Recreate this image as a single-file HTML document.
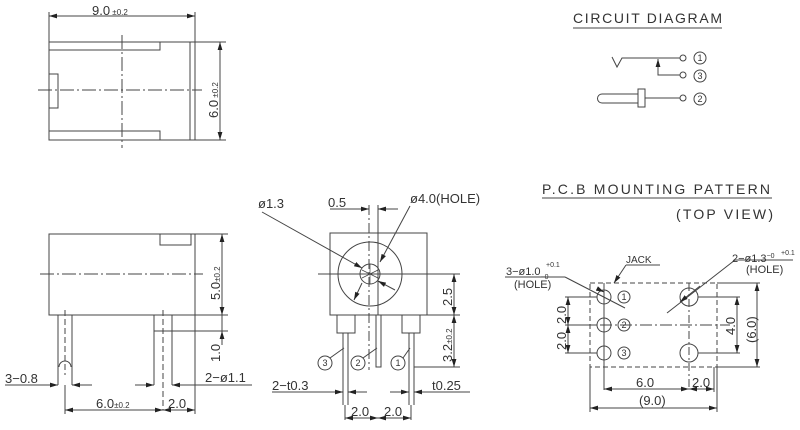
<!DOCTYPE html>
<html><head><meta charset="utf-8"><style>
html,body{margin:0;padding:0;background:#fff;}
svg{display:block;}
text{font-family:"Liberation Sans",sans-serif;fill:#333;}
</style></head><body>
<svg width="800" height="430" viewBox="0 0 800 430" xmlns="http://www.w3.org/2000/svg">
<defs>
<marker id="a" viewBox="0 0 10 6" refX="10" refY="3" markerWidth="8" markerHeight="5" orient="auto-start-reverse"><path d="M0,0L10,3L0,6z" fill="#222"/></marker>
</defs>
<g stroke="#444" stroke-width="1" fill="none">
<!-- TOP VIEW -->
<rect x="49" y="42" width="146" height="98"/>
<line x1="190" y1="42" x2="190" y2="140"/>
<polyline points="49,50 160,50 160,42"/>
<polyline points="49,131 160,131 160,140"/>
<rect x="49" y="74" width="9" height="34"/>
<line x1="122" y1="35" x2="122" y2="148" stroke-dasharray="14,3,2,3"/>
<line x1="38" y1="90" x2="202" y2="90" stroke-dasharray="14,3,2,3"/>
<line x1="49" y1="12" x2="49" y2="42"/><line x1="195" y1="12" x2="195" y2="42"/>
<line x1="49" y1="16" x2="195" y2="16" marker-start="url(#a)" marker-end="url(#a)"/>
<line x1="195" y1="42" x2="226" y2="42"/><line x1="195" y1="140" x2="226" y2="140"/>
<line x1="220" y1="42" x2="220" y2="140" marker-start="url(#a)" marker-end="url(#a)"/>

<!-- FRONT VIEW -->
<rect x="49" y="234" width="146" height="81"/>
<rect x="160" y="234" width="31" height="11"/>
<line x1="40" y1="274" x2="203" y2="274" stroke-dasharray="14,3,2,3"/>
<path d="M58,315V385M72,315V385"/>
<path d="M59,367A6,6 0 0 1 71,367" />
<line x1="65" y1="310" x2="65" y2="375" stroke-dasharray="6,3"/>
<path d="M154,315V385M172,315V385"/>
<line x1="163" y1="310" x2="163" y2="410" stroke-dasharray="6,3"/>
<line x1="154" y1="331" x2="228" y2="331"/>
<line x1="195" y1="234" x2="228" y2="234"/><line x1="195" y1="315" x2="228" y2="315"/>
<line x1="222" y1="234" x2="222" y2="315" marker-start="url(#a)" marker-end="url(#a)"/>
<line x1="222" y1="315" x2="222" y2="331"/>
<line x1="222" y1="345" x2="222" y2="331" marker-end="url(#a)"/>
<line x1="5" y1="385" x2="58" y2="385" marker-end="url(#a)"/>
<line x1="92" y1="385" x2="72" y2="385" marker-end="url(#a)"/>
<line x1="135" y1="385" x2="154" y2="385" marker-end="url(#a)"/>
<line x1="252" y1="385" x2="172" y2="385" marker-end="url(#a)"/>
<line x1="65" y1="385" x2="65" y2="414"/><line x1="195" y1="315" x2="195" y2="414"/>
<line x1="65" y1="410" x2="163" y2="410" marker-start="url(#a)" marker-end="url(#a)"/>
<line x1="163" y1="410" x2="195" y2="410" marker-start="url(#a)" marker-end="url(#a)"/>

<!-- SIDE VIEW -->
<rect x="330" y="233" width="97" height="82"/>
<circle cx="370" cy="274" r="32"/>
<circle cx="370" cy="274" r="10"/>
<line x1="318" y1="274" x2="460" y2="274"/>
<line x1="369" y1="205" x2="369" y2="370" stroke-dasharray="10,3,2,3"/>
<line x1="378" y1="205" x2="378" y2="315"/>
<line x1="330" y1="209" x2="369" y2="209" marker-end="url(#a)"/>
<line x1="398" y1="209" x2="378" y2="209" marker-end="url(#a)"/>
<line x1="262" y1="212" x2="362" y2="268" marker-end="url(#a)"/>
<line x1="410" y1="206" x2="380" y2="262" marker-end="url(#a)"/>
<line x1="395" y1="290" x2="378" y2="281" marker-end="url(#a)"/>
<line x1="362" y1="283" x2="354" y2="300" marker-end="url(#a)"/>
<path d="M362,270L378,278M362,278L378,270M370,264V284" stroke-width="0.7"/>
<rect x="337" y="315" width="18" height="18"/>
<rect x="402" y="315" width="18" height="18"/>
<path d="M343,333V405M348,333V405"/>
<path d="M409,333V405M414,333V405"/>
<rect x="376" y="315" width="5" height="52"/>
<line x1="427" y1="274" x2="460" y2="274"/><line x1="427" y1="315" x2="460" y2="315"/>
<line x1="414" y1="367" x2="460" y2="367"/>
<line x1="454" y1="274" x2="454" y2="315" marker-start="url(#a)" marker-end="url(#a)"/>
<line x1="454" y1="315" x2="454" y2="367" marker-start="url(#a)" marker-end="url(#a)"/>
<circle cx="325" cy="363" r="7"/><circle cx="358" cy="363" r="7"/><circle cx="398" cy="363" r="7"/>
<line x1="330" y1="358" x2="344" y2="348"/><line x1="363" y1="358" x2="377" y2="348"/><line x1="403" y1="358" x2="410" y2="348"/>
<line x1="272" y1="392" x2="343" y2="392" marker-end="url(#a)"/>
<line x1="367" y1="392" x2="348" y2="392" marker-end="url(#a)"/>
<line x1="390" y1="392" x2="409" y2="392" marker-end="url(#a)"/>
<line x1="470" y1="392" x2="414" y2="392" marker-end="url(#a)"/>
<line x1="345" y1="405" x2="345" y2="420"/><line x1="411" y1="405" x2="411" y2="420"/>
<line x1="345" y1="418" x2="378" y2="418" marker-start="url(#a)" marker-end="url(#a)"/>
<line x1="378" y1="418" x2="411" y2="418" marker-start="url(#a)" marker-end="url(#a)"/>

<!-- CIRCUIT -->
<line x1="573" y1="28" x2="722" y2="28"/>
<polyline points="612,57 617,67 622,58 680,58"/>
<circle cx="683" cy="58" r="3"/>
<polyline points="658,60 658,75 680,75" />
<line x1="658" y1="66" x2="658" y2="59" marker-end="url(#a)"/>
<circle cx="683" cy="75" r="3"/>
<path d="M638,94H602A4.5,4.5 0 0 0 602,103H638"/>
<rect x="638" y="89" width="7" height="18"/>
<line x1="645" y1="98" x2="680" y2="98"/>
<circle cx="683" cy="98" r="3"/>
<circle cx="700" cy="58" r="6"/><circle cx="700" cy="76" r="6"/><circle cx="700" cy="99" r="6"/>

<!-- PCB -->
<line x1="542" y1="198" x2="772" y2="198"/>
<rect x="590" y="283" width="127" height="84" stroke-dasharray="5,3"/>
<line x1="580" y1="325" x2="730" y2="325" stroke-dasharray="12,3,2,3"/>
<line x1="604" y1="283" x2="604" y2="390"/>
<line x1="689" y1="283" x2="689" y2="390" stroke-dasharray="8,3,2,3"/>
<circle cx="604" cy="297" r="7"/><circle cx="604" cy="325" r="7"/><circle cx="604" cy="353" r="7"/>
<circle cx="689" cy="297" r="9"/><circle cx="689" cy="353" r="9"/>
<circle cx="624" cy="297" r="6"/><circle cx="624" cy="325" r="6"/><circle cx="624" cy="353" r="6"/>
<line x1="565" y1="297" x2="597" y2="297"/><line x1="565" y1="325" x2="597" y2="325"/><line x1="565" y1="353" x2="597" y2="353"/>
<line x1="568" y1="297" x2="568" y2="325" marker-start="url(#a)" marker-end="url(#a)"/>
<line x1="568" y1="325" x2="568" y2="353" marker-start="url(#a)" marker-end="url(#a)"/>
<line x1="698" y1="297" x2="740" y2="297"/><line x1="698" y1="353" x2="740" y2="353"/>
<line x1="737" y1="297" x2="737" y2="353" marker-start="url(#a)" marker-end="url(#a)"/>
<line x1="717" y1="283" x2="760" y2="283"/><line x1="717" y1="367" x2="760" y2="367"/>
<line x1="757" y1="283" x2="757" y2="367" marker-start="url(#a)" marker-end="url(#a)"/>
<line x1="604" y1="389" x2="689" y2="389" marker-start="url(#a)" marker-end="url(#a)"/>
<line x1="689" y1="389" x2="714" y2="389" marker-start="url(#a)" marker-end="url(#a)"/>
<line x1="714" y1="367" x2="714" y2="392"/>
<line x1="590" y1="367" x2="590" y2="412"/><line x1="717" y1="367" x2="717" y2="412"/>
<line x1="590" y1="408" x2="717" y2="408" marker-start="url(#a)" marker-end="url(#a)"/>
<line x1="505" y1="277" x2="565" y2="277"/>
<line x1="565" y1="277" x2="625" y2="308"/>
<line x1="600" y1="290" x2="604" y2="292" marker-end="url(#a)"/>
<line x1="660" y1="265" x2="626" y2="265"/>
<line x1="626" y1="265" x2="614" y2="283" marker-end="url(#a)"/>
<line x1="793" y1="260" x2="735" y2="260"/>
<line x1="735" y1="260" x2="667" y2="313"/>
<line x1="700" y1="286" x2="680" y2="302" marker-end="url(#a)"/>
</g>
<g font-size="13">
<text x="92" y="15">9.0<tspan font-size="8"> ±0.2</tspan></text>
<text transform="translate(218,118) rotate(-90)">6.0<tspan font-size="8"> ±0.2</tspan></text>
<text transform="translate(220,300) rotate(-90)">5.0<tspan font-size="8">±0.2</tspan></text>
<text transform="translate(220,362) rotate(-90)">1.0</text>
<text x="5" y="383">3−0.8</text>
<text x="205" y="382">2−ø1.1</text>
<text x="96" y="408">6.0<tspan font-size="8">±0.2</tspan></text>
<text x="168" y="408">2.0</text>
<text x="258" y="208">ø1.3</text>
<text x="328" y="207">0.5</text>
<text x="410" y="203">ø4.0(HOLE)</text>
<text transform="translate(452,306) rotate(-90)">2.5</text>
<text transform="translate(452,362) rotate(-90)">3.2<tspan font-size="8">±0.2</tspan></text>
<text x="272" y="390">2−t0.3</text>
<text x="432" y="390">t0.25</text>
<text x="351" y="416">2.0</text>
<text x="384" y="416">2.0</text>
<text x="573" y="23" font-size="14" textLength="149" lengthAdjust="spacing">CIRCUIT  DIAGRAM</text>
<text x="542" y="194" font-size="14" textLength="228" lengthAdjust="spacing">P.C.B  MOUNTING  PATTERN</text>
<text x="676" y="219" font-size="14" textLength="97" lengthAdjust="spacing">(TOP  VIEW)</text>
<text x="626" y="263" font-size="10">JACK</text>
<text x="506" y="275" font-size="11">3−ø1.0<tspan font-size="7" dy="4">−0</tspan></text>
<text x="546" y="267" font-size="7">+0.1</text>
<text x="514" y="288" font-size="11">(HOLE)</text>
<text x="732" y="262" font-size="11">2−ø1.3<tspan font-size="7" dy="-4">−0</tspan></text>
<text x="781" y="255" font-size="7">+0.1</text>
<text x="746" y="273" font-size="11">(HOLE)</text>
<text transform="translate(566,324) rotate(-90)">2.0</text>
<text transform="translate(566,350) rotate(-90)">2.0</text>
<text transform="translate(735,335) rotate(-90)">4.0</text>
<text transform="translate(756,343) rotate(-90)">(6.0)</text>
<text x="636" y="387">6.0</text>
<text x="692" y="387">2.0</text>
<text x="639" y="405">(9.0)</text>
</g>
<g font-size="9" text-anchor="middle">
<text x="700" y="61">1</text><text x="700" y="79">3</text><text x="700" y="102">2</text>
<text x="325" y="366">3</text><text x="358" y="366">2</text><text x="398" y="366">1</text>
<text x="624" y="300">1</text><text x="624" y="328">2</text><text x="624" y="356">3</text>
</g>
</svg>
</body></html>
